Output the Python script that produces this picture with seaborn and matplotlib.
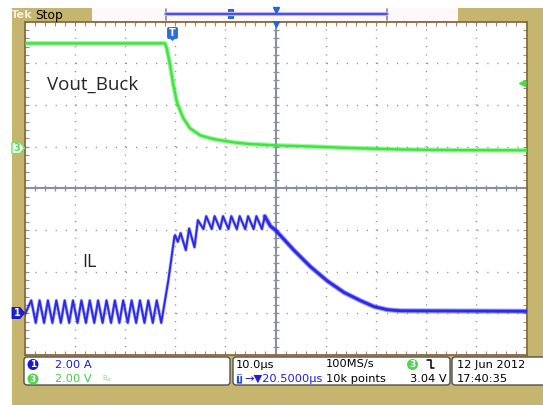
import numpy as np
import matplotlib
matplotlib.use('Agg')
import matplotlib.pyplot as plt
import seaborn as sns
from matplotlib.patches import Rectangle, FancyBboxPatch, Polygon, Circle
from matplotlib.ticker import MultipleLocator

sns.set_style('white')
plt.rcParams['font.family'] = ['DejaVu Sans']

# CH3 : Vout_Buck (V), time in us from trigger point
vout_t = [-29.5, -1.5, -1.16, -0.5, 0.16, 0.84, 1.5, 2.16, 3.5, 5.5, 7.5, 8.84, 12.2,
          15.5, 21.1, 25.5, 35.5, 45.5, 55.5, 70.5]
vout_v = [4.95, 4.95, 4.71, 3.91, 2.95, 2.15, 1.73, 1.35, 0.87, 0.54, 0.40, 0.33, 0.20,
          0.12, 0.05, 0.02, -0.07, -0.14, -0.17, -0.18]

# CH1 : IL (A)
il_t = [-29.5,
        -28.16, -27.26, -26.5, -25.6, -24.84, -23.94, -23.16, -22.26, -21.5, -20.6,
        -19.84, -18.94, -18.16, -17.26, -16.5, -15.6, -14.84, -13.94, -13.16, -12.26,
        -11.5, -10.6, -9.84, -8.94, -8.16, -7.26, -6.5, -5.6, -4.84, -3.94, -3.16, -2.26,
        -0.84, 0.36, 0.5, 1.04, 1.6, 2.64, 3.3, 4.36,
        5.04, 6.14, 6.7, 7.8, 8.36, 9.46, 10.04, 11.14, 11.7, 12.8, 13.36, 14.46,
        15.04, 16.14, 16.7, 17.8, 18.36,
        19.5, 20.5, 24.16, 27.5, 30.84, 34.16, 37.5, 40.16, 42.84, 45.5, 70.5]
il_a = [-0.1,
        0.62, -0.46, 0.62, -0.46, 0.62, -0.46, 0.62, -0.46, 0.62, -0.46,
        0.62, -0.46, 0.62, -0.46, 0.62, -0.46, 0.62, -0.46, 0.62, -0.46,
        0.62, -0.46, 0.62, -0.46, 0.62, -0.46, 0.62, -0.46, 0.62, -0.46, 0.62, -0.46,
        1.59, 3.67, 3.75, 3.43, 3.85, 3.03, 4.07, 3.17,
        4.47, 4.04, 4.66, 4.04, 4.66, 4.04, 4.66, 4.04, 4.66, 4.04, 4.66, 4.04,
        4.66, 4.04, 4.66, 4.04, 4.66,
        4.18, 3.99, 3.03, 2.23, 1.55, 1.0, 0.6, 0.32, 0.17, 0.12, 0.1]

ch1_scale, ch1_pos = 2.0, -3.0   # A/div, div
ch3_scale, ch3_pos = 2.0, 1.0    # V/div, div
trig_level = 3.04

TAN = '#C6B56F'
GREEN = '#3DE63D'
BLUE = '#2A2AE8'

fig = plt.figure(figsize=(5.43, 4.05), dpi=100)
fig.patch.set_facecolor('white')

bg = fig.add_axes([0, 0, 1, 1], zorder=0)
bg.set_xlim(0, 543); bg.set_ylim(405, 0); bg.axis('off')
bg.add_patch(Rectangle((12, 8), 540, 400, facecolor=TAN, edgecolor='none'))

ax = fig.add_axes([24.5 / 543, 50 / 405, 502 / 543, 333.5 / 405], zorder=1)
ax.set_facecolor('white')
ax.set_xlim(-29.5, 70.5)
ax.set_ylim(-4, 4)
for s in ax.spines.values():
    s.set_color('#8B6B3D'); s.set_linewidth(1.3)
ax.xaxis.set_major_locator(MultipleLocator(10, offset=0.5))
ax.xaxis.set_minor_locator(MultipleLocator(2, offset=0.5))
ax.yaxis.set_major_locator(MultipleLocator(1))
ax.yaxis.set_minor_locator(MultipleLocator(0.2))
ax.tick_params(which='both', direction='in', top=True, right=True, bottom=True, left=True,
               labelbottom=False, labelleft=False, length=3, color='#8c8c8c', width=0.8)
ax.xaxis.grid(True, which='major', color='#8a8a8a', linewidth=1, linestyle=(0, (0.8, 5.2)))
ax.yaxis.grid(True, which='major', color='#8a8a8a', linewidth=1, linestyle=(0, (0.8, 6.43)))

# center graticule with ticks
cc = '#86909f'
ax.axvline(20.5, color=cc, lw=1.5, zorder=2)
ax.axhline(0, color=cc, lw=1.5, zorder=2)
ax.plot(np.arange(-29.5, 70.6, 2), np.zeros(51), ls='none', marker='|', ms=5, mew=0.9, color=cc, zorder=2)
ax.plot(np.full(41, 20.5), np.arange(-4, 4.01, 0.2), ls='none', marker='_', ms=5, mew=0.9, color=cc, zorder=2)

# traces
vt = np.array(vout_t); vy = ch3_pos + np.array(vout_v) / ch3_scale
it = np.array(il_t); iy = ch1_pos + np.array(il_a) / ch1_scale
sns.lineplot(x=vt, y=vy, ax=ax, color=GREEN, linewidth=3.4, alpha=0.45, estimator=None, zorder=4)
sns.lineplot(x=vt, y=vy, ax=ax, color=GREEN, linewidth=1.7, estimator=None, zorder=4)
sns.lineplot(x=it, y=iy, ax=ax, color=BLUE, linewidth=2.4, alpha=0.35, estimator=None, zorder=4)
sns.lineplot(x=it, y=iy, ax=ax, color=BLUE, linewidth=1.4, estimator=None, zorder=4)
m = it >= 18.36
sns.lineplot(x=it[m], y=iy[m], ax=ax, color=BLUE, linewidth=3.6, alpha=0.45, estimator=None, zorder=4)
sns.lineplot(x=it[m], y=iy[m], ax=ax, color=BLUE, linewidth=1.8, estimator=None, zorder=4)

ax.text(-25.1, 2.48, 'Vout_Buck', fontsize=13.5, family='Open Sans', va='center', ha='left', zorder=5)
ax.text(-17.9, -1.77, 'IL', fontsize=13, family='Open Sans', va='center', ha='left', zorder=5)

# trigger level marker on right
ax.plot([69.6], [ch3_pos + trig_level / ch3_scale], marker='<', ms=5, color=GREEN, clip_on=False, zorder=5)
ax.plot([69.6, 70.4], [ch3_pos + trig_level / ch3_scale] * 2, color=GREEN, lw=1.2, zorder=5)
ax.plot([20.5], [4.0], marker='v', ms=7, color='#2266DD', clip_on=False, zorder=6)

ax.set_xlabel(''); ax.set_ylabel('')

# overlay in pixel coordinates
ov = fig.add_axes([0, 0, 1, 1], zorder=3)
ov.set_xlim(0, 543); ov.set_ylim(405, 0); ov.axis('off')
ov.patch.set_alpha(0)

# top bar
ov.text(11, 15, 'Tek', fontsize=8.2, weight='bold', color='#F4EFDC', va='center', ha='left')
ov.text(35, 15, 'Stop', fontsize=8.8, color='black', va='center', ha='left')
ov.add_patch(Rectangle((92, 8), 366, 13, facecolor='#FFF8FA', edgecolor='none'))
ov.plot([166, 166], [9, 20], color='#888888', lw=1.2)
ov.plot([386.5, 386.5], [9, 20], color='#888888', lw=1.2)
ov.plot([166, 386.5], [14, 14], color='#B8B8F0', lw=3)
ov.plot([166, 386.5], [14, 14], color='#3B3BE0', lw=1.2)
ov.add_patch(FancyBboxPatch((229, 10), 4, 8, boxstyle='round,pad=0.6', facecolor='#2A6FE0', edgecolor='#1A4FB0', lw=0.6))
ov.plot([276], [9.5], marker='v', ms=4, color='#2266DD')

# trigger T marker
ov.add_patch(FancyBboxPatch((168.5, 28.5), 8, 9, boxstyle='round,pad=0.8', facecolor='#2A6FE0', edgecolor='#1A4FB0', lw=0.6))
ov.add_patch(Polygon([(168, 37), (177, 37), (172.5, 41)], closed=True, facecolor='#2A6FE0', edgecolor='none'))
ov.text(172.5, 33, 'T', fontsize=7, weight='bold', color='white', ha='center', va='center')

# channel ground markers
ov.add_patch(Polygon([(12, 307.5), (20, 307.5), (24.5, 313), (20, 318.5), (12, 318.5)], closed=True,
                     facecolor='#1E1ED8', edgecolor='#1010A0', lw=0.6))
ov.text(17, 313, '1', fontsize=7, weight='bold', color='white', ha='center', va='center')
ov.add_patch(Polygon([(12, 142.5), (20, 142.5), (24.5, 148), (20, 153.5), (12, 153.5)], closed=True,
                     facecolor='white', edgecolor='#6EE06E', lw=1))
ov.text(17, 148, '3', fontsize=7, weight='bold', color='#5ED85E', ha='center', va='center')

# bottom info boxes
for x0, w in [(24, 206), (233, 217), (452, 110)]:
    ov.add_patch(FancyBboxPatch((x0 + 3, 360), w - 6, 22, boxstyle='round,pad=3',
                                facecolor='white', edgecolor='#505050', lw=1))

fs = 8.2
ov.add_patch(Circle((33, 364.5), 5.5, facecolor='#1A1ACC', edgecolor='none'))
ov.text(33, 364.5, '1', fontsize=6.5, weight='bold', color='white', ha='center', va='center')
ov.text(55, 364.5, '2.00 A', fontsize=fs, color='#2020D0', ha='left', va='center')
ov.add_patch(Circle((33, 379), 5.5, facecolor='#4CD64C', edgecolor='none'))
ov.text(33, 379, '3', fontsize=6.5, weight='bold', color='white', ha='center', va='center')
ov.text(55, 379, '2.00 V', fontsize=fs, color='#44CC44', ha='left', va='center')
ov.text(102, 379, 'B$_w$', fontsize=5, color='#8ADB8A', ha='left', va='center')

ov.text(236, 364.5, '10.0µs', fontsize=fs, color='black', ha='left', va='center')
ov.text(326, 364.5, '100MS/s', fontsize=fs, color='black', ha='left', va='center')
ov.add_patch(Circle((412.5, 364.5), 5.5, facecolor='#4CD64C', edgecolor='none'))
ov.text(412.5, 364.5, '3', fontsize=6.5, weight='bold', color='white', ha='center', va='center')
ov.plot([427, 431, 431, 434], [360, 360, 368, 368], color='black', lw=1.1)
ov.add_patch(FancyBboxPatch((237.5, 375), 4, 8, boxstyle='round,pad=0.6', facecolor='#1A4FD0', edgecolor='none'))
ov.text(239.5, 379, 'T', fontsize=5.5, weight='bold', color='white', ha='center', va='center')
ov.text(244, 379, '→▼20.5000µs', fontsize=fs, color='#2020D0', ha='left', va='center')
ov.text(326, 379, '10k points', fontsize=fs, color='black', ha='left', va='center')
ov.text(447, 379, '3.04 V', fontsize=fs, color='black', ha='right', va='center')

ov.text(457, 364.5, '12 Jun 2012', fontsize=fs, color='black', ha='left', va='center')
ov.text(457, 379, '17:40:35', fontsize=fs, color='black', ha='left', va='center')

fig.savefig('out.png', dpi=100, facecolor='white')
